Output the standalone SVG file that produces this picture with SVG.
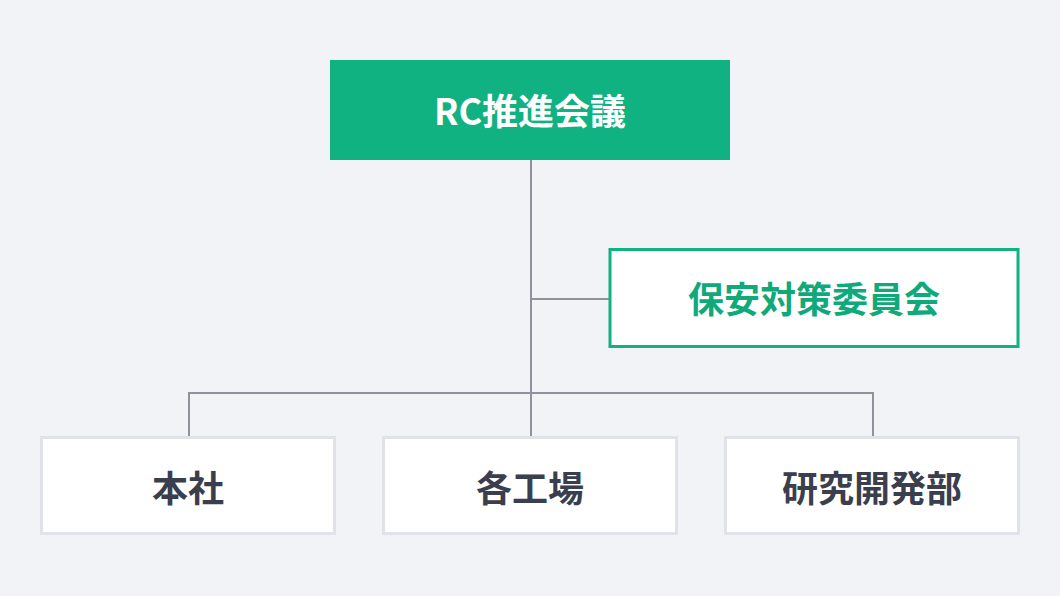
<svg xmlns="http://www.w3.org/2000/svg" width="1060" height="596" viewBox="0 0 1060 596">
<style>
.t{font-family:"Noto Sans CJK JP","Noto Sans",sans-serif;font-weight:700;font-size:36px;text-anchor:middle;dominant-baseline:central}
.w{fill:#ffffff}
.g{fill:#10a97a}
.d{fill:#3b3e4d}
.box{fill:#ffffff;stroke:#e0e2e9;stroke-width:3}
.ln{stroke:#8e929d;stroke-width:2;fill:none}
</style>
<rect width="1060" height="596" fill="#f2f3f7"/>
<g id="connectors">
<path class="ln" d="M531 160V436"/>
<path class="ln" d="M531 299H609"/>
<path class="ln" d="M189 436V393H873V436"/>
</g>
<g id="rc">
<rect x="330" y="60" width="400" height="100" fill="#10b282"/>
<text class="t w" x="530" y="109">RC推進会議</text>
</g>
<g id="hoan">
<rect x="610" y="249.5" width="408" height="97" fill="#ffffff" stroke="#10b282" stroke-width="3"/>
<text class="t g" x="814" y="297">保安対策委員会</text>
</g>
<g id="honsha">
<rect class="box" x="41.5" y="437.5" width="293" height="96"/>
<text class="t d" x="188" y="486">本社</text>
</g>
<g id="kojo">
<rect class="box" x="383.5" y="437.5" width="293" height="96"/>
<text class="t d" x="530" y="486">各工場</text>
</g>
<g id="kenkyu">
<rect class="box" x="725.5" y="437.5" width="293" height="96"/>
<text class="t d" x="872" y="486">研究開発部</text>
</g>
</svg>
